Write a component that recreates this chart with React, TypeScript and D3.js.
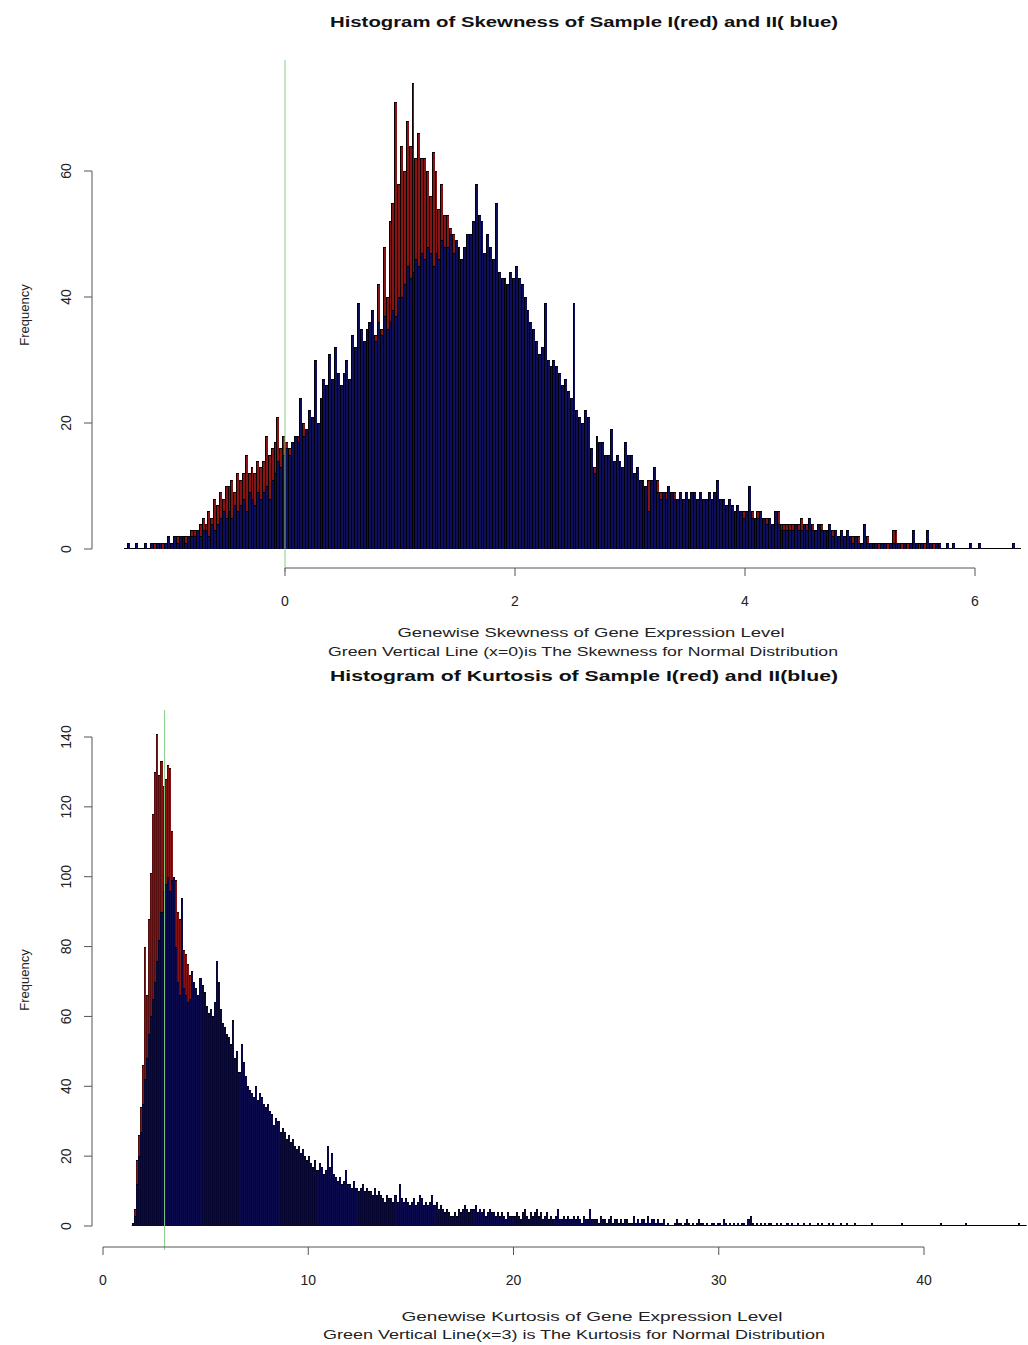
import React from "react";
import * as d3 from "d3";

// ---------- Skewness histogram (bins of 0.025 starting at -1.4) ----------
const skewBinStart = -1.4;
const skewBinWidth = 0.025;
const skewRed = [
  0,0,0,0, 0,0,0,0, 0,0,1,0, 0,1,0,1, 1,0,2,1, 1,2,1,3, 3,2,4,5, 4,6,5,8,
  7,9,8,10, 10,11,9,12, 11,12,15,12, 13,12,14,13, 14,18,15,16, 17,21,16,18,
  17,16,15,17, 18,16,20,17, 19,20,22,18, 22,24,23,26, 25,28,26,24, 27,29,26,30,
  30,33,32,31, 33,35,37,34, 42,35,48,40, 52,55,71,58, 64,60,68,64, 74,62,66,62,
  62,60,56,63, 60,54,58,53, 53,51,50,48, 47,45,44,46, 45,48,47,44, 44,45,42,46,
  40,41,42,40, 38,37,40,39, 36,38,35,37, 34,31,30,32, 29,31,28,26, 25,26,24,27,
  24,22,23,21, 20,21,19,18, 18,17,15,13, 14,15,16,13, 13,14,13,12, 12,13,14,11,
  11,12,10,11, 9,10,11,10, 10,11,9,8, 9,8,8,9, 7,8,7,8, 7,8,8,7,
  7,6,7,8, 6,7,7,6, 6,7,6,5, 5,6,5,6, 5,6,6,5, 6,5,4,5,
  5,4,5,6, 4,4,4,4, 4,3,4,5, 3,4,3,4, 3,3,4,3, 3,2,3,2,
  2,3,2,2, 1,2,1,2, 1,1,2,1, 1,0,1,1, 1,1,0,3, 3,1,1,0,
  1,0,1,0, 1,0,1,0, 0,1,0,0,
];
const skewBlue = [
  0,1,0,0, 1,0,0,1, 0,1,0,1, 1,0,1,2, 1,2,1,2, 2,1,2,2, 2,3,2,3, 3,2,4,3,
  4,5,6,5, 6,5,7,6, 7,8,6,9, 8,7,9,8, 9,10,8,11, 12,14,13,15,
  16,15,17,18, 17,24,18,19, 22,21,30,20, 24,27,26,31, 27,32,28,26, 28,30,27,34,
  32,39,35,33, 35,36,38,33, 36,34,37,35, 36,38,37,40, 40,42,45,43, 44,46,45,47,
  46,48,47,45, 47,46,49,48, 48,50,47,49, 48,46,48,50, 50,52,58,53, 52,47,50,48,
  46,55,44,43, 43,42,44,43, 45,43,42,40, 38,36,35,33, 31,32,39,30, 29,30,29,28,
  26,27,25,24, 39,22,21,20, 22,21,16,12, 18,17,17,15, 15,19,14,15, 14,13,17,15,
  15,12,13,11, 11,10,6,11, 13,9,8,9, 8,10,9,8, 8,9,8,9, 8,9,9,8,
  9,8,8,9, 8,9,11,8, 8,7,8,7, 6,7,6,5, 6,10,5,5, 5,6,5,4,
  5,4,6,4, 3,3,3,3, 3,4,3,3, 4,3,5,3, 3,4,3,3, 3,4,2,3,
  2,3,2,3, 2,1,2,1, 1,4,1,1, 1,1,0,1, 1,0,1,1, 1,1,0,1,
  0,1,3,1, 0,1,0,3, 1,0,1,1, 0,0,1,0, 1,0,0,0, 0,0,1,0,
  0,1,0,0, 0,0,0,0, 0,0,0,0, 0,1,0,0,
];
const skewTicksX = [0, 2, 4, 6];
const skewTicksY = [0, 20, 40, 60];

// ---------- Kurtosis histogram (bins of 0.1 starting at 1.4) ----------
const kurtBinStart = 1.4;
const kurtBinWidth = 0.1;
const kurtRed = [
  0,5,19,26,34,46,
  80,66,88,101,118,130,141,129,133,126,
  128,132,131,113,98,99,90,88,85,79,
  78,75,72,70,66,60,58,56,55,52,
  50,48,47,45,44,42,40,38,37,36,
  35,33,32,31,30,29,28,27,26,25,
  24,23,22,21,20,20,19,18,17,17,
  16,15,15,14,13,13,12,12,11,11,
  10,10,9,9,9,8,8,8,7,7,
  7,6,6,6,5,5,5,5,5,4,
  4,4,4,4,3,3,3,3,3,3,
  3,3,3,2,2,2,2,2,2,2,
  2,2,2,2,2,1,1,1,1,1,
  1,1,1,1,1,1,1,1,1,1,
  1,1,1,1,1,1,1,0,1,1,
  1,0,1,1,0,1,0,1,0,1,
  1,0,1,0,1,0,1,0,0,1,
  0,1,0,0,1,0,0,1,0,0,
  1,0,0,1,0,0,0,1,0,0,
];
const kurtBlue = [
  1,3,12,20,27,35,
  42,48,55,60,65,70,76,82,90,96,
  98,100,96,99,100,80,70,66,94,68,
  66,64,65,73,70,68,66,71,69,67,
  63,61,62,60,64,76,70,62,58,57,
  55,54,52,59,48,50,44,52,47,43,
  40,39,38,37,40,36,38,37,35,34,
  35,33,32,29,31,30,27,28,27,25,
  26,24,25,23,22,23,21,22,20,19,
  20,18,17,19,16,18,17,15,16,23,
  17,21,15,14,13,14,12,13,16,12,
  12,11,13,11,10,11,12,10,11,10,
  10,9,11,9,10,9,8,7,9,8,
  8,7,9,7,12,8,7,8,7,6,
  7,8,6,7,9,8,6,7,6,7,
  9,6,7,5,6,5,4,5,4,3,
  3,4,3,5,4,5,6,5,4,5,
  5,6,4,5,4,5,3,4,5,4,
  4,3,4,3,4,3,2,4,3,3,
  3,4,3,2,4,5,3,2,4,3,
  4,5,3,4,2,3,4,2,3,2,
  3,5,2,2,3,2,3,2,2,3,
  2,3,2,1,3,2,2,5,2,2,
  2,1,3,2,2,1,2,3,1,2,
  2,1,2,1,2,2,1,1,3,1,
  2,1,2,2,1,3,1,2,2,1,
  2,1,1,2,0,1,0,0,1,2,
  1,1,0,1,2,1,0,1,0,1,
  2,1,1,0,1,0,1,1,0,1,
  1,0,2,1,0,1,0,1,0,1,
  0,1,1,0,2,3,1,0,1,0,
  1,0,1,0,1,1,0,0,1,0,
  1,0,0,1,0,1,0,0,1,0,
  0,1,0,0,1,0,0,0,1,0,
  1,0,0,1,0,1,0,0,0,1,
  0,0,1,0,0,0,1,0,0,0,
  0,0,0,0,1,0,0,0,0,0,
  0,0,0,0,0,0,0,0,0,1,
  0,0,0,0,0,0,0,0,0,0,
  0,0,0,0,0,0,0,0,1,0,
  0,0,0,0,0,0,0,0,0,0,
  1,0,0,0,0,0,0,0,0,0,
  0,0,0,0,0,0,0,0,0,0,
  0,0,0,0,0,0,1,0,0,0,
];
const kurtTicksX = [0, 10, 20, 30, 40];
const kurtTicksY = [0, 20, 40, 60, 80, 100, 120, 140];

const RED = "#861414";
const BLUE = "#0e0e5c";
const GREEN = "#86cc86";
const FONT = "'Liberation Sans', Arial, sans-serif";

type Scale = d3.ScaleLinear<number, number>;

function Bars({ data, start, width, x, y, fill, so }: { data: number[]; start: number; width: number; x: Scale; y: Scale; fill: string; so: number }) {
  return (
    <g shapeRendering="crispEdges">
      {data.map((v, i) => {
        if (v <= 0) return null;
        const x0 = Math.round(x(start + i * width));
        const x1 = Math.round(x(start + (i + 1) * width));
        const yt = Math.round(y(v));
        const yb = Math.round(y(0));
        return (
          <g key={i}>
            <rect x={x0} y={yt} width={x1 - x0} height={yb - yt} fill={fill} />
            <rect x={x0} y={yt} width={1} height={yb - yt} fill="#000" fillOpacity={so} />
            <rect x={x0} y={yt} width={x1 - x0} height={1} fill="#000" fillOpacity={Math.max(so, 0.8)} />
          </g>
        );
      })}
    </g>
  );
}

function Panel(props: {
  red: number[]; blue: number[]; start: number; width: number;
  x: Scale; y: Scale; ticksX: number[]; ticksY: number[];
  axisY: number; yAxisX: number; greenX: number; greenTop: number; greenBottom: number;
  freqY: number; so: number; blueFill: string;
}) {
  const { red, blue, start, width, x, y, ticksX, ticksY, axisY, yAxisX, greenX, greenTop, greenBottom, freqY, so, blueFill } = props;
  const n = Math.max(red.length, blue.length);
  const y0 = Math.round(y(0));
  return (
    <g>
      <line x1={x(start)} x2={x(start + n * width)} y1={y0 - 0.5} y2={y0 - 0.5} stroke="#000" strokeWidth={1} />
      <Bars data={red} start={start} width={width} x={x} y={y} fill={RED} so={so} />
      <Bars data={blue} start={start} width={width} x={x} y={y} fill={blueFill} so={so} />
      <line x1={x(greenX)} x2={x(greenX)} y1={greenTop} y2={greenBottom} stroke={GREEN} strokeWidth={1} />
      {/* x axis */}
      <line x1={x(ticksX[0])} x2={x(ticksX[ticksX.length - 1])} y1={axisY} y2={axisY} stroke="#555" strokeWidth={1} />
      {ticksX.map((t) => (
        <g key={t}>
          <line x1={x(t)} x2={x(t)} y1={axisY} y2={axisY + 8} stroke="#555" strokeWidth={1} />
          <text x={x(t)} y={axisY + 38} textAnchor="middle" fontSize={14} fontFamily={FONT} fill="#222">{t}</text>
        </g>
      ))}
      {/* y axis */}
      <line x1={yAxisX} x2={yAxisX} y1={y(ticksY[0])} y2={y(ticksY[ticksY.length - 1])} stroke="#555" strokeWidth={1} />
      {ticksY.map((t) => (
        <g key={t}>
          <line x1={yAxisX} x2={yAxisX - 8} y1={y(t)} y2={y(t)} stroke="#555" strokeWidth={1} />
          <text transform={`translate(${yAxisX - 26},${y(t)}) rotate(-90)`} textAnchor="middle" fontSize={14} fontFamily={FONT} fill="#222" dy="0.35em">{t}</text>
        </g>
      ))}
      <text transform={`translate(24,${freqY}) rotate(-90)`} textAnchor="middle" fontSize={13} fontFamily={FONT} fill="#222" dy="0.35em">Frequency</text>
    </g>
  );
}

export default function App() {
  const xS = d3.scaleLinear().domain([0, 6]).range([285, 975]);
  const yS = d3.scaleLinear().domain([0, 60]).range([549, 171]);
  const xK = d3.scaleLinear().domain([0, 40]).range([103, 924]);
  const yK = d3.scaleLinear().domain([0, 140]).range([1226, 737]);

  return (
    <svg width={1028} height={1345} style={{ position: "absolute", left: 0, top: 0, background: "#fff" }}>
      <rect x={0} y={0} width={1028} height={1345} fill="#fff" />
      <text x={584} y={27} textAnchor="middle" fontSize={14} fontWeight="bold" fontFamily={FONT} fill="#111" textLength={508} lengthAdjust="spacingAndGlyphs">
        Histogram of Skewness of Sample I(red) and II( blue)
      </text>
      <Panel red={skewRed} blue={skewBlue} start={skewBinStart} width={skewBinWidth} x={xS} y={yS}
        ticksX={skewTicksX} ticksY={skewTicksY} axisY={568} yAxisX={92} greenX={0} greenTop={60} greenBottom={572} freqY={315}
        so={0.9} blueFill={BLUE} />
      <text x={591} y={637} textAnchor="middle" fontSize={13} fontFamily={FONT} fill="#222" textLength={387} lengthAdjust="spacingAndGlyphs">
        Genewise Skewness of Gene Expression Level
      </text>
      <text x={583} y={656} textAnchor="middle" fontSize={13} fontFamily={FONT} fill="#222" textLength={510} lengthAdjust="spacingAndGlyphs">
        Green Vertical Line (x=0)is The Skewness for Normal Distribution
      </text>

      <text x={584} y={681} textAnchor="middle" fontSize={15} fontWeight="bold" fontFamily={FONT} fill="#111" textLength={508} lengthAdjust="spacingAndGlyphs">
        Histogram of Kurtosis of Sample I(red) and II(blue)
      </text>
      <Panel red={kurtRed} blue={kurtBlue} start={kurtBinStart} width={kurtBinWidth} x={xK} y={yK}
        ticksX={kurtTicksX} ticksY={kurtTicksY} axisY={1247} yAxisX={92} greenX={3} greenTop={710} greenBottom={1250} freqY={980}
        so={0.35} blueFill="#0a0a4c" />
      <text x={592} y={1321} textAnchor="middle" fontSize={13} fontFamily={FONT} fill="#222" textLength={381} lengthAdjust="spacingAndGlyphs">
        Genewise Kurtosis of Gene Expression Level
      </text>
      <text x={574} y={1339} textAnchor="middle" fontSize={13} fontFamily={FONT} fill="#222" textLength={502} lengthAdjust="spacingAndGlyphs">
        Green Vertical Line(x=3) is The Kurtosis for Normal Distribution
      </text>
    </svg>
  );
}
